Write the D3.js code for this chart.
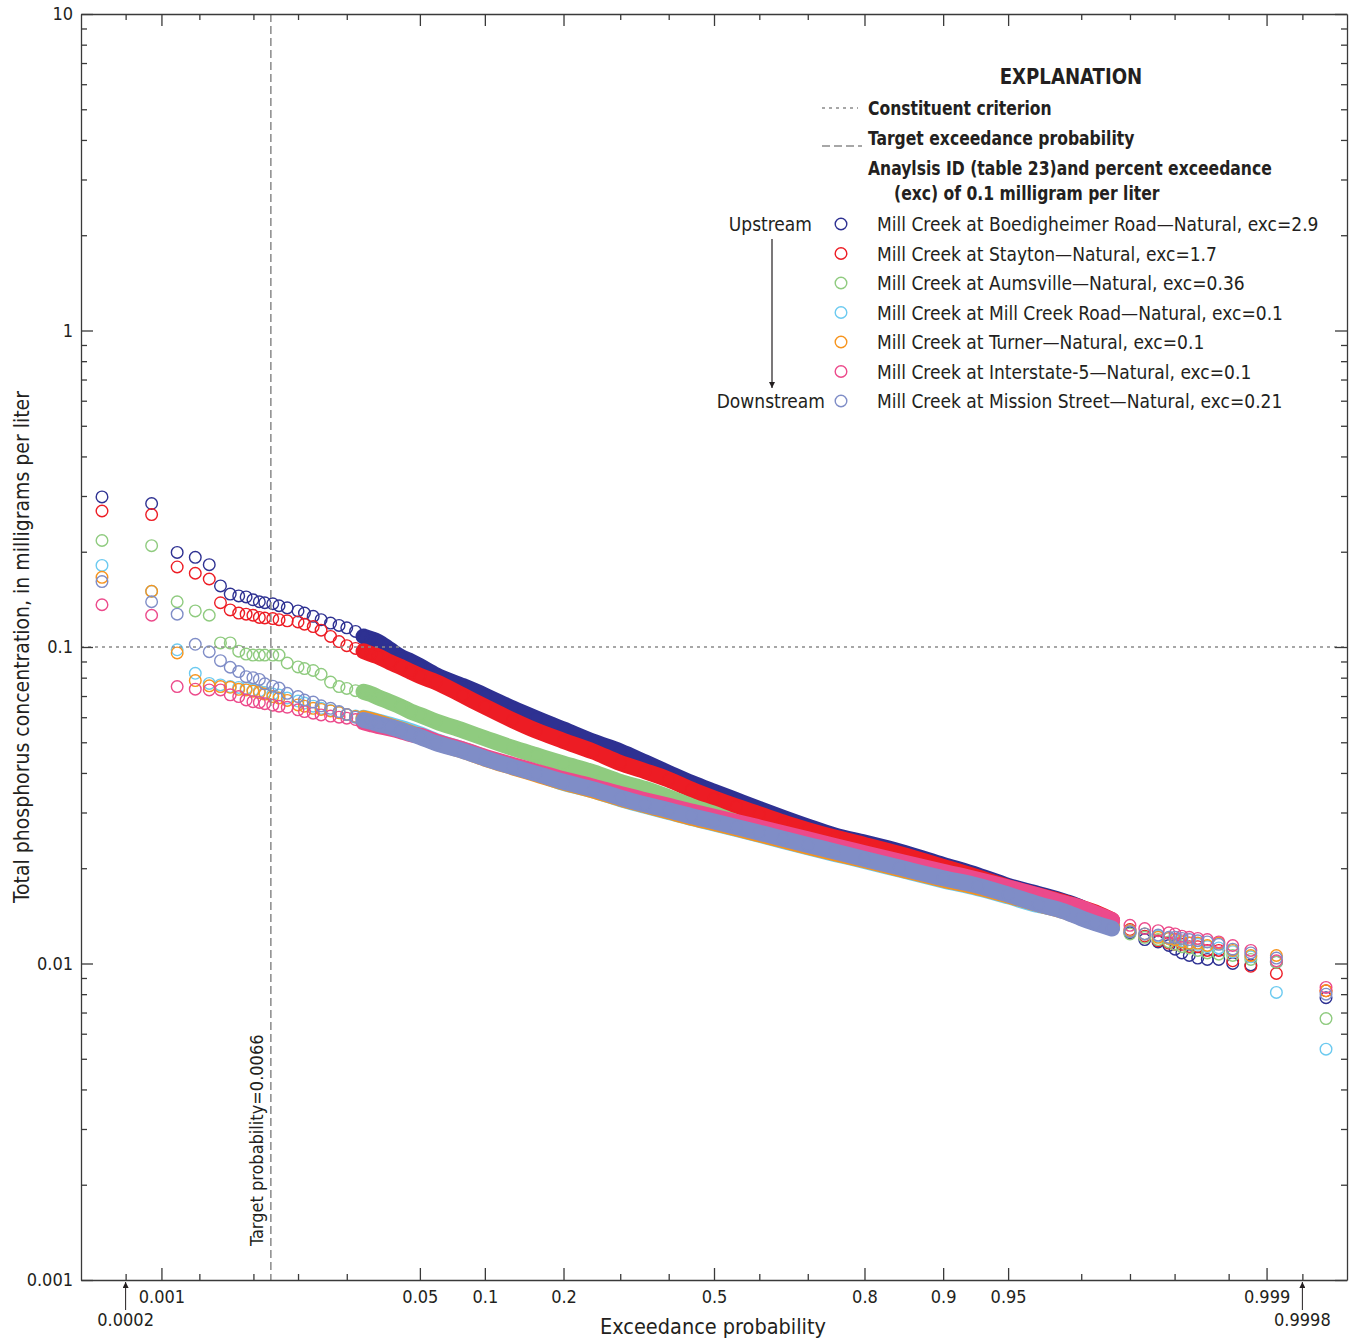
<!DOCTYPE html>
<html><head><meta charset="utf-8">
<script src="https://cdn.jsdelivr.net/npm/d3@7"></script>
<style>
body{margin:0;background:#fff;}
svg text{font-family:"Liberation Sans Narrow","Arial Narrow","DejaVu Sans Condensed","Roboto Condensed",Roboto,sans-serif;font-stretch:condensed;fill:#231f20;}
</style></head>
<body><svg id="chart" width="1353" height="1341"></svg>
<script>
// ---------- DATA ----------
const EXC_PROB = [0.00031,0.00083,0.00134,0.00186,0.00238,0.00289,0.00341,0.00393,0.00444,0.00496,
 0.0055,0.006,0.0068,0.0075,0.0085,0.01,0.011,0.0125,0.014,0.016,0.018,0.02,0.0225,0.025,0.0275,0.03,0.035,0.04,0.045,
 0.05,0.06,0.08,0.1,0.13,0.16,0.2,0.25,0.3,0.35,0.4,0.45,0.5,0.55,0.6,0.65,0.7,0.75,0.8,0.85,0.9,0.93,0.95,0.965,
 0.975,0.98,0.9835,0.987,0.99,0.992,0.9935,0.99452,
 0.99504,0.99556,0.99607,0.99659,0.9971,0.99762,0.99814,0.99866,0.99917,0.99969];

const BOEDIGHEIMER = [0.298,0.284,0.199,0.192,0.182,0.156,0.147,0.145,0.144,0.141,
 0.139,0.138,0.137,0.135,0.133,0.130,0.128,0.125,0.122,0.119,0.117,0.115,0.112,0.108,0.106,0.104,0.098,0.093,0.090,
 0.087,0.0815,0.0753,0.0703,0.064,0.0595,0.0549,0.0502,0.0468,0.0432,0.0400,0.0372,0.0349,0.0328,0.0308,0.0289,0.0271,0.0254,0.0241,0.0226,0.0205,0.0190,0.0176,0.0166,
 0.0157,0.0150,0.0141,0.0133,0.0125,0.0119,0.0117,0.0114,
 0.0111,0.0108,0.0106,0.0104,0.0103,0.0103,0.0100,0.0099,0.0101,0.0078];
const STAYTON = [0.269,0.262,0.179,0.171,0.164,0.138,0.131,0.128,0.127,0.126,
 0.124,0.1235,0.123,0.122,0.121,0.120,0.118,0.116,0.113,0.108,0.104,0.101,0.099,0.097,0.095,0.0935,0.0895,0.0865,0.0835,
 0.081,0.0775,0.0703,0.0648,0.0587,0.0544,0.0505,0.0467,0.0430,0.0405,0.0381,0.0354,0.0332,0.0313,0.0296,0.0279,0.0264,0.0250,0.0237,0.0222,0.0202,0.0187,0.0174,0.0164,
 0.0156,0.0150,0.0145,0.0137,0.0128,0.0122,0.0118,0.0116,
 0.0115,0.0115,0.0113,0.0113,0.0110,0.0110,0.0102,0.0098,0.0093,0.0082];
const AUMSVILLE = [0.217,0.209,0.139,0.130,0.126,0.103,0.103,0.097,0.095,0.0943,
 0.0943,0.0943,0.0943,0.0943,0.089,0.0865,0.0855,0.0843,0.082,0.0775,0.075,0.074,0.0728,0.0722,0.071,0.0695,0.067,0.0648,0.0625,
 0.061,0.0582,0.0545,0.0515,0.048,0.0455,0.0428,0.0402,0.0375,0.0356,0.0335,0.0314,0.0297,0.0279,0.0264,0.025,0.0238,0.0226,0.0216,0.0205,0.019,0.0178,0.0168,0.0159,
 0.0150,0.0144,0.0138,0.0130,0.0124,0.0121,0.0119,0.0117,
 0.0115,0.0113,0.0112,0.0110,0.0108,0.0107,0.0106,0.0103,0.0101,0.0067];
const MILL_CREEK_ROAD = [0.181,0.150,0.098,0.0826,0.0767,0.0759,0.0750,0.0745,0.0740,0.0730,
 0.0725,0.0718,0.071,0.0705,0.069,0.0675,0.0665,0.065,0.064,0.063,0.0622,0.0612,0.0605,0.0598,0.059,0.0582,0.0568,0.0555,0.0542,
 0.053,0.0505,0.0474,0.0448,0.042,0.0399,0.0372,0.0352,0.0331,0.0315,0.0301,0.0288,0.0277,0.0266,0.0255,0.0244,0.0233,0.0222,0.0211,0.0198,0.0183,0.0173,0.0163,0.0153,
 0.0148,0.0143,0.0138,0.0132,0.0127,0.0124,0.0122,0.0120,
 0.0119,0.0118,0.0116,0.0115,0.0113,0.0112,0.0109,0.0105,0.0081,0.00536];
const TURNER = [0.166,0.150,0.0958,0.0783,0.0754,0.0750,0.0746,0.0735,0.0732,0.0725,
 0.0718,0.071,0.0697,0.069,0.0678,0.0656,0.065,0.064,0.0635,0.0628,0.062,0.0612,0.0603,0.0595,0.0588,0.058,0.0563,0.0548,0.0535,
 0.0522,0.050,0.047,0.0444,0.0417,0.0396,0.0373,0.0352,0.0332,0.0316,0.0302,0.0289,0.0278,0.0267,0.0256,0.0245,0.0234,0.0223,0.0212,0.0199,0.0184,0.0174,0.0164,0.0154,
 0.0146,0.0140,0.0136,0.0131,0.0127,0.0124,0.0121,0.0120,
 0.0119,0.0117,0.0116,0.0116,0.0114,0.0116,0.0110,0.0106,0.0106,0.0082];
const INTERSTATE5 = [0.136,0.126,0.075,0.0736,0.0732,0.0732,0.0706,0.0697,0.068,0.0672,
 0.0668,0.0662,0.0655,0.065,0.0645,0.0633,0.0625,0.0618,0.061,0.0605,0.060,0.0596,0.059,0.0578,0.057,0.0563,0.0553,0.0542,0.053,
 0.0525,0.0503,0.0475,0.0450,0.0424,0.0404,0.0382,0.0362,0.0343,0.0328,0.0315,0.0302,0.0291,0.028,0.0269,0.0258,0.0247,0.0235,0.0223,0.021,0.0195,0.0184,0.0174,0.0164,
 0.0155,0.0150,0.0144,0.0137,0.0132,0.0129,0.0127,0.0125,
 0.0124,0.0122,0.0121,0.0120,0.0119,0.0117,0.0114,0.0110,0.0102,0.0084];
const MISSION_STREET = [0.161,0.139,0.127,0.102,0.0966,0.0905,0.0863,0.0836,0.0806,0.0800,
 0.079,0.0765,0.0752,0.0742,0.0714,0.0697,0.068,0.067,0.0652,0.064,0.0625,0.0612,0.060,0.0588,0.058,0.0572,0.056,0.0546,0.0532,
 0.052,0.0497,0.047,0.0445,0.0418,0.0398,0.0375,0.0355,0.0334,0.0318,0.0305,0.0292,0.0281,0.027,0.0259,0.0248,0.0237,0.0226,0.0214,0.0201,0.0186,0.0176,0.0165,0.0154,
 0.0146,0.0139,0.0134,0.0129,0.0126,0.0124,0.0123,0.0121,
 0.0121,0.0120,0.0119,0.0118,0.0117,0.0115,0.0111,0.0108,0.0104,0.0080];

const SERIES_LABELS = ["Mill Creek at Boedigheimer Road\u2014Natural, exc=2.9","Mill Creek at Stayton\u2014Natural, exc=1.7",
 "Mill Creek at Aumsville\u2014Natural, exc=0.36","Mill Creek at Mill Creek Road\u2014Natural, exc=0.1",
 "Mill Creek at Turner\u2014Natural, exc=0.1","Mill Creek at Interstate-5\u2014Natural, exc=0.1",
 "Mill Creek at Mission Street\u2014Natural, exc=0.21"];
const SERIES_COLORS = ["#2e3192","#ed1c24","#8fcb7f","#6ccaf0","#f7941d","#ec4a8b","#7f8dc7"];
const SERIES_VALUES = [BOEDIGHEIMER,STAYTON,AUMSVILLE,MILL_CREEK_ROAD,TURNER,INTERSTATE5,MISSION_STREET];

const X_MAJOR = [0.001,0.05,0.1,0.2,0.5,0.8,0.9,0.95,0.999];
const X_MAJOR_LABELS = ["0.001","0.05","0.1","0.2","0.5","0.8","0.9","0.95","0.999"];
const X_MINOR = [0.0005,0.002,0.005,0.01,0.02,0.3,0.4,0.6,0.7,0.98,0.99,0.995,0.998,0.9995];
const X_ARROW_POS = [0.0005,0.9995];
const X_ARROW_LABELS = ["0.0002","0.9998"];
const Y_MAJOR = [0.001,0.01,0.1,1,10];
const Y_MAJOR_LABELS = ["0.001","0.01","0.1","1","10"];
const Y_MINOR = [2,3,4,5,6,7,8,9].flatMap(m=>[0.001,0.01,0.1,1].map(d=>m*d));
const CRITERION = 0.1;
const TARGET_PROB = 0.0066;
const X_DOMAIN = [0.0002,0.9998];
const Y_DOMAIN = [0.001,10];

// ---------- SCALES ----------
function probit(p){
 const a=[-3.969683028665376e+01,2.209460984245205e+02,-2.759285104469687e+02,1.383577518672690e+02,-3.066479806614716e+01,2.506628277459239e+00];
 const b=[-5.447609879822406e+01,1.615858368580409e+02,-1.556989798598866e+02,6.680131188771972e+01,-1.328068155288572e+01];
 const c=[-7.784894002430293e-03,-3.223964580411365e-01,-2.400758277161838e+00,-2.549732539343734e+00,4.374664141464968e+00,2.938163982698783e+00];
 const d=[7.784695709041462e-03,3.224671290700398e-01,2.445134137142996e+00,3.754408661907416e+00];
 const pl=0.02425;
 if(p<pl){const q=Math.sqrt(-2*Math.log(p));return (((((c[0]*q+c[1])*q+c[2])*q+c[3])*q+c[4])*q+c[5])/((((d[0]*q+d[1])*q+d[2])*q+d[3])*q+1);}
 if(p>1-pl){const q=Math.sqrt(-2*Math.log(1-p));return -(((((c[0]*q+c[1])*q+c[2])*q+c[3])*q+c[4])*q+c[5])/((((d[0]*q+d[1])*q+d[2])*q+d[3])*q+1);}
 const q=p-0.5,r=q*q;
 return (((((a[0]*r+a[1])*r+a[2])*r+a[3])*r+a[4])*r+a[5])*q/(((((b[0]*r+b[1])*r+b[2])*r+b[3])*r+b[4])*r+1);
}
const L=81,R=1347,T=14,B=1280;
const zLin = d3.scaleLinear().domain(X_DOMAIN.map(probit)).range([L,R]);
function x(p){return zLin(probit(p));}
x.copy=()=>x; x.range=()=>zLin.range(); x.domain=()=>X_DOMAIN.slice();
const y = d3.scaleLog().domain(Y_DOMAIN).range([B,T]);

const svg = d3.select("#chart");
const axColor="#3a3a3a";
const defs = svg.append("defs");
defs.append("marker").attr("id","arr").attr("viewBox","0 0 10 10").attr("refX",10).attr("refY",5)
  .attr("markerUnits","userSpaceOnUse").attr("markerWidth",9).attr("markerHeight",6).attr("orient","auto")
  .append("path").attr("d","M0,0 L10,5 L0,10 Z").attr("fill","#231f20");

// ---------- DATA MARKS ----------
const gData = svg.append("g");
SERIES_VALUES.forEach((vals,si)=>{
  const pts = EXC_PROB.map((p,i)=>({p,v:vals[i]}));
  const dense = pts.filter(d=>d.p>=0.025 && d.p<=0.987);
  gData.append("path").datum(dense)
    .attr("d",d3.line().x(d=>x(d.p)).y(d=>y(d.v)).curve(d3.curveMonotoneX))
    .attr("fill","none").attr("stroke",SERIES_COLORS[si]).attr("stroke-width",16)
    .attr("stroke-linecap","round").attr("stroke-linejoin","round");
  gData.selectAll(null).data(pts).join("circle")
    .attr("cx",d=>x(d.p)).attr("cy",d=>y(d.v)).attr("r",5.8)
    .attr("fill","none").attr("stroke",SERIES_COLORS[si]).attr("stroke-width",1.4);
});

// ---------- REFERENCE LINES ----------
svg.append("line").attr("x1",L).attr("x2",R).attr("y1",y(CRITERION)).attr("y2",y(CRITERION))
  .attr("stroke","#8a8a8a").attr("stroke-width",1.3).attr("stroke-dasharray","3,4");
svg.append("line").attr("x1",x(TARGET_PROB)).attr("x2",x(TARGET_PROB)).attr("y1",T).attr("y2",B)
  .attr("stroke","#8a8a8a").attr("stroke-width",1.5).attr("stroke-dasharray","8,4");
svg.append("text").attr("transform",`translate(${x(TARGET_PROB)-8},1246) rotate(-90)`)
  .attr("font-size",18).text("Target probability=" + TARGET_PROB);

// ---------- AXES ----------
function styleAxis(g){g.selectAll("path,line").attr("stroke",axColor).attr("stroke-width",1.3);
  g.selectAll("text").attr("font-size",18).attr("fill","#231f20").attr("font-family",null);}
const fmtX = d=>X_MAJOR_LABELS[X_MAJOR.indexOf(d)];
svg.append("g").attr("transform",`translate(0,${B})`)
  .call(d3.axisBottom(x).tickValues(X_MAJOR).tickFormat(fmtX).tickSizeInner(-12).tickSizeOuter(0).tickPadding(10)).call(styleAxis);
svg.append("g").attr("transform",`translate(0,${B})`)
  .call(d3.axisBottom(x).tickValues(X_MINOR).tickFormat("").tickSizeInner(-6).tickSizeOuter(0)).call(styleAxis).select(".domain").remove();
svg.append("g").attr("transform",`translate(0,${T})`)
  .call(d3.axisTop(x).tickValues(X_MAJOR).tickFormat("").tickSizeInner(-12).tickSizeOuter(0)).call(styleAxis);
svg.append("g").attr("transform",`translate(0,${T})`)
  .call(d3.axisTop(x).tickValues(X_MINOR).tickFormat("").tickSizeInner(-6).tickSizeOuter(0)).call(styleAxis).select(".domain").remove();
const fmtY = d=>Y_MAJOR_LABELS[Y_MAJOR.indexOf(d)];
svg.append("g").attr("transform",`translate(${L},0)`)
  .call(d3.axisLeft(y).tickValues(Y_MAJOR).tickFormat(fmtY).tickSizeInner(-12).tickSizeOuter(0).tickPadding(8)).call(styleAxis);
svg.append("g").attr("transform",`translate(${L},0)`)
  .call(d3.axisLeft(y).tickValues(Y_MINOR).tickFormat("").tickSizeInner(-6).tickSizeOuter(0)).call(styleAxis).select(".domain").remove();
svg.append("g").attr("transform",`translate(${R},0)`)
  .call(d3.axisRight(y).tickValues(Y_MAJOR).tickFormat("").tickSizeInner(-12).tickSizeOuter(0)).call(styleAxis);
svg.append("g").attr("transform",`translate(${R},0)`)
  .call(d3.axisRight(y).tickValues(Y_MINOR).tickFormat("").tickSizeInner(-6).tickSizeOuter(0)).call(styleAxis).select(".domain").remove();

// arrow annotations on x axis
X_ARROW_POS.forEach((p,i)=>{
  svg.append("line").attr("x1",x(p)).attr("x2",x(p)).attr("y1",1310).attr("y2",1282)
    .attr("stroke","#231f20").attr("stroke-width",1).attr("marker-end","url(#arr)");
  svg.append("text").attr("x",x(p)).attr("y",1326).attr("text-anchor","middle").attr("font-size",18).text(X_ARROW_LABELS[i]);
});

// axis titles
svg.append("text").attr("x",(L+R)/2 - 1).attr("y",1334).attr("text-anchor","middle").attr("font-size",21.5).text("Exceedance probability");
svg.append("text").attr("transform","translate(29,647) rotate(-90)").attr("text-anchor","middle").attr("font-size",21)
  .text("Total phosphorus concentration, in milligrams per liter");

// ---------- LEGEND ----------
const lg = svg.append("g");
lg.append("text").attr("x",1071).attr("y",84).attr("text-anchor","middle").attr("font-size",21).attr("font-weight","bold")
  .attr("transform","translate(1071,0) scale(0.96,1) translate(-1071,0)").text("EXPLANATION");
lg.append("line").attr("x1",822).attr("x2",858).attr("y1",108).attr("y2",108).attr("stroke","#8a8a8a").attr("stroke-width",1.3).attr("stroke-dasharray","3,4");
lg.append("line").attr("x1",822).attr("x2",862).attr("y1",146).attr("y2",146).attr("stroke","#8a8a8a").attr("stroke-width",1.5).attr("stroke-dasharray","8,4");
const boldItems = [["Constituent criterion",868,115],["Target exceedance probability",868,145],
  ["Anaylsis ID (table 23)and percent exceedance",868,175],["(exc) of 0.1 milligram per liter",894,200]];
boldItems.forEach(([t,tx,ty])=>{
  lg.append("text").attr("transform",`translate(${tx},${ty}) scale(0.89,1)`).attr("font-size",19.5).attr("font-weight","bold").text(t);
});
const rows = lg.selectAll("g.row").data(SERIES_LABELS).join("g").attr("class","row")
  .attr("transform",(d,i)=>`translate(0,${224+i*29.5})`);
rows.append("circle").attr("cx",841).attr("cy",0).attr("r",5.8).attr("fill","none")
  .attr("stroke",(d,i)=>SERIES_COLORS[i]).attr("stroke-width",1.4);
rows.append("text").attr("x",877).attr("y",7).attr("font-size",19).text(d=>d);
lg.append("text").attr("x",812).attr("y",231).attr("text-anchor","end").attr("font-size",19).text("Upstream");
lg.append("text").attr("x",825).attr("y",408).attr("text-anchor","end").attr("font-size",19).text("Downstream");
lg.append("line").attr("x1",772).attr("x2",772).attr("y1",239).attr("y2",388).attr("stroke","#231f20").attr("stroke-width",1.2)
  .attr("marker-end","url(#arr)");
</script></body></html>
